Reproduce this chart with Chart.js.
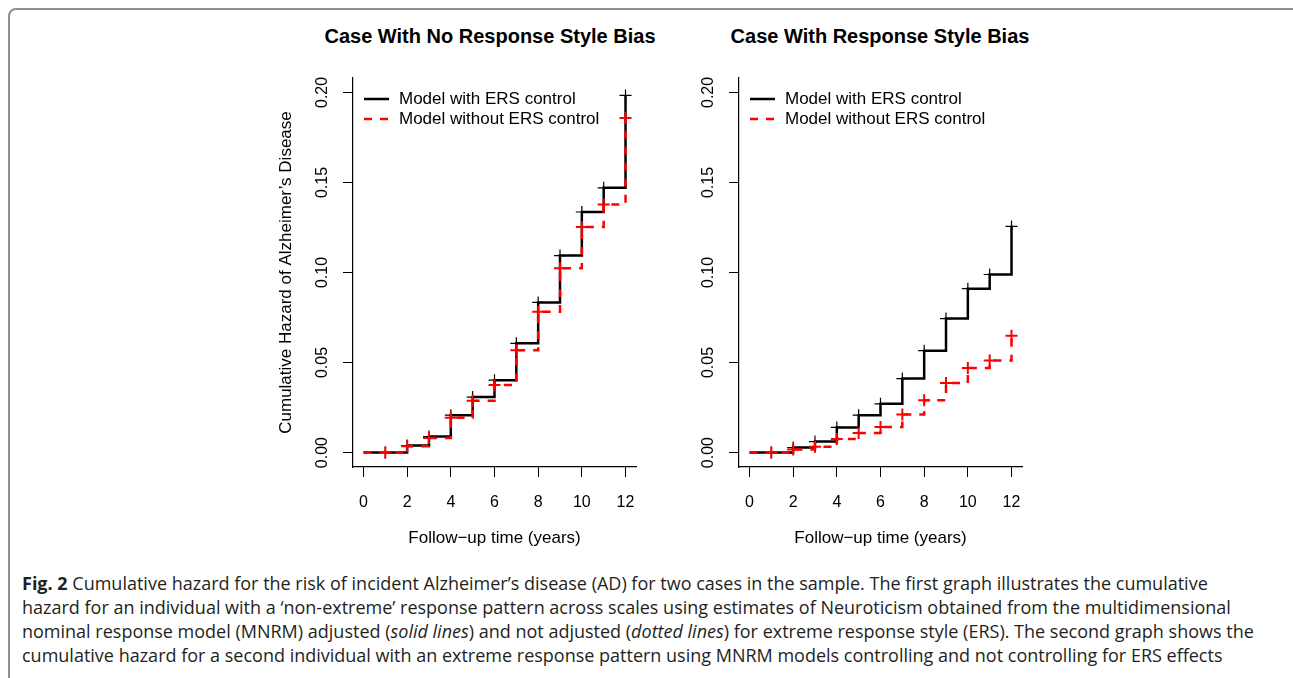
<!DOCTYPE html>
<html>
<head>
<meta charset="utf-8">
<script src="https://cdn.jsdelivr.net/npm/chart.js@4/dist/chart.umd.min.js"></script>
<style>
  html, body { margin: 0; padding: 0; background: #fff; }
  body { width: 1293px; height: 678px; position: relative; overflow: hidden; }
  .frame { position: absolute; left: 8px; top: 8px; width: 1300px; height: 700px;
           border: 2px solid #8f8f8f; border-radius: 8px; box-sizing: border-box; }
  .plot-title { position: absolute; width: 400px; text-align: center; top: 25px;
                font: bold 20px "Liberation Sans", Arial, sans-serif; color: #000; }
  canvas { position: absolute; }
  .caption { position: absolute; left: 22px; top: 571px; font: 18px "Open Sans", sans-serif;
             color: #231f20; line-height: 24px; white-space: nowrap; }
</style>
</head>
<body>
<div class="frame"></div>
<div class="plot-title" style="left:290px">Case With No Response Style Bias</div>
<div class="plot-title" style="left:680px">Case With Response Style Bias</div>
<canvas id="left-chart" width="400" height="500" style="left:260px;top:60px;width:400px;height:500px"></canvas>
<canvas id="right-chart" width="400" height="500" style="left:650px;top:60px;width:400px;height:500px"></canvas>
<div class="caption">
  <div><b>Fig. 2</b> Cumulative hazard for the risk of incident Alzheimer’s disease (AD) for two cases in the sample. The first graph illustrates the cumulative</div>
  <div>hazard for an individual with a ‘non-extreme’ response pattern across scales using estimates of Neuroticism obtained from the multidimensional</div>
  <div>nominal response model (MNRM) adjusted (<i>solid lines</i>) and not adjusted (<i>dotted lines</i>) for extreme response style (ERS). The second graph shows the</div>
  <div>cumulative hazard for a second individual with an extreme response pattern using MNRM models controlling and not controlling for ERS effects</div>
</div>
<script>
// follow-up years (x) and cumulative hazard
const years = [0, 1, 2, 3, 4, 5, 6, 7, 8, 9, 10, 11, 12];
const noBiasWithErs    = [0, 0, 0.0039, 0.0089, 0.0208, 0.0308, 0.0402, 0.0607, 0.0834, 0.1094, 0.1336, 0.1470, 0.1983];
const noBiasWithoutErs = [0, 0, 0.0035, 0.0081, 0.0194, 0.0288, 0.0375, 0.0568, 0.0782, 0.1024, 0.1253, 0.1378, 0.1858];
const biasWithErs      = [0, 0, 0.0028, 0.0061, 0.0140, 0.0208, 0.0271, 0.0411, 0.0566, 0.0744, 0.0910, 0.0989, 0.1256];
const biasWithoutErs   = [0, 0, 0.0017, 0.0033, 0.0076, 0.0109, 0.0142, 0.0212, 0.0290, 0.0386, 0.0470, 0.0511, 0.0649];

const xTicks = [0, 2, 4, 6, 8, 10, 12];
const yTicks = [0, 0.05, 0.10, 0.15, 0.20];
const yTickLabels = ['0.00', '0.05', '0.10', '0.15', '0.20'];
const seriesNames = ['Model with ERS control', 'Model without ERS control'];

const FONT = '"Liberation Sans", Arial, Helvetica, sans-serif';

// legend drawn inside the plot, top-left like base R's legend()
const innerLegend = {
    id: 'innerLegend',
    afterDraw(chart) {
        const { ctx, chartArea } = chart;
        const rows = [
            { label: seriesNames[0], color: '#000000', dash: [] },
            { label: seriesNames[1], color: '#ff0000', dash: [8, 8] }
        ];
        ctx.save();
        ctx.font = `17px ${FONT}`;
        ctx.textBaseline = 'middle';
        rows.forEach((r, i) => {
            const y = chartArea.top + 21 + i * 20;
            ctx.beginPath();
            ctx.setLineDash(r.dash);
            ctx.strokeStyle = r.color;
            ctx.lineWidth = 2.5;
            ctx.moveTo(chartArea.left + 11, y);
            ctx.lineTo(chartArea.left + 36, y);
            ctx.stroke();
            ctx.setLineDash([]);
            ctx.fillStyle = '#000';
            ctx.fillText(r.label, chartArea.left + 46, y);
        });
        ctx.restore();
    }
};

function makeChart(canvasId, withErs, withoutErs, yAxisWidth, rightPad, showYTitle) {
    const ctx = document.getElementById(canvasId).getContext('2d');
    const crossSizes = years.map(x => x === 0 ? 0 : 6);
    return new Chart(ctx, {
        type: 'line',
        data: {
            datasets: [
                {
                    label: seriesNames[1],
                    data: years.map((x, i) => ({ x, y: withoutErs[i] })),
                    borderColor: '#ff0000',
                    borderWidth: 2.5,
                    borderDash: [8, 8],
                    stepped: true,
                    fill: false,
                    pointStyle: 'cross',
                    pointRadius: crossSizes,
                    pointBorderWidth: 2,
                    pointBorderColor: '#ff0000'
                },
                {
                    label: seriesNames[0],
                    data: years.map((x, i) => ({ x, y: withErs[i] })),
                    borderColor: '#000000',
                    borderWidth: 2.5,
                    stepped: true,
                    fill: false,
                    pointStyle: 'cross',
                    pointRadius: crossSizes,
                    pointBorderWidth: 1.2,
                    pointBorderColor: '#000000'
                }
            ]
        },
        options: {
            responsive: false,
            animation: false,
            layout: { padding: { left: 0, right: rightPad, top: 18, bottom: 0 } },
            plugins: {
                legend: { display: false },
                tooltip: { enabled: false }
            },
            scales: {
                x: {
                    type: 'linear',
                    min: -0.48,
                    max: 12.48,
                    afterBuildTicks: s => { s.ticks = xTicks.map(v => ({ value: v })); },
                    afterFit: s => { s.height = 93; },
                    grid: { drawOnChartArea: false, drawTicks: true, tickLength: 10, tickColor: '#000', tickWidth: 1 },
                    border: { display: true, color: '#000', width: 1.2 },
                    ticks: { color: '#000', font: { family: FONT, size: 16 }, padding: 16, maxRotation: 0, minRotation: 0 },
                    title: { display: true, text: 'Follow−up time (years)', color: '#000',
                             font: { family: FONT, size: 17 }, padding: { top: 0, bottom: 11 } }
                },
                y: {
                    type: 'linear',
                    min: -0.008,
                    max: 0.208,
                    afterBuildTicks: s => { s.ticks = yTicks.map(v => ({ value: v })); },
                    afterFit: s => { s.width = yAxisWidth; },
                    grid: { drawOnChartArea: false, drawTicks: true, tickLength: 10, tickColor: '#000', tickWidth: 1 },
                    border: { display: true, color: '#000', width: 1.2 },
                    ticks: {
                        color: '#000', font: { family: FONT, size: 16 }, padding: 5,
                        minRotation: 90, maxRotation: 90, crossAlign: 'center',
                        callback: (v) => yTickLabels[yTicks.findIndex(t => Math.abs(t - v) < 1e-9)]
                    },
                    title: { display: showYTitle, text: 'Cumulative Hazard of Alzheimer’s Disease', color: '#000',
                             font: { family: FONT, size: 17 }, padding: { top: 16, bottom: 0 } }
                }
            }
        },
        plugins: [innerLegend]
    });
}

makeChart('left-chart', noBiasWithErs, noBiasWithoutErs, 93, 24, true);
makeChart('right-chart', biasWithErs, biasWithoutErs, 89, 28, false);
</script>
</body>
</html>
